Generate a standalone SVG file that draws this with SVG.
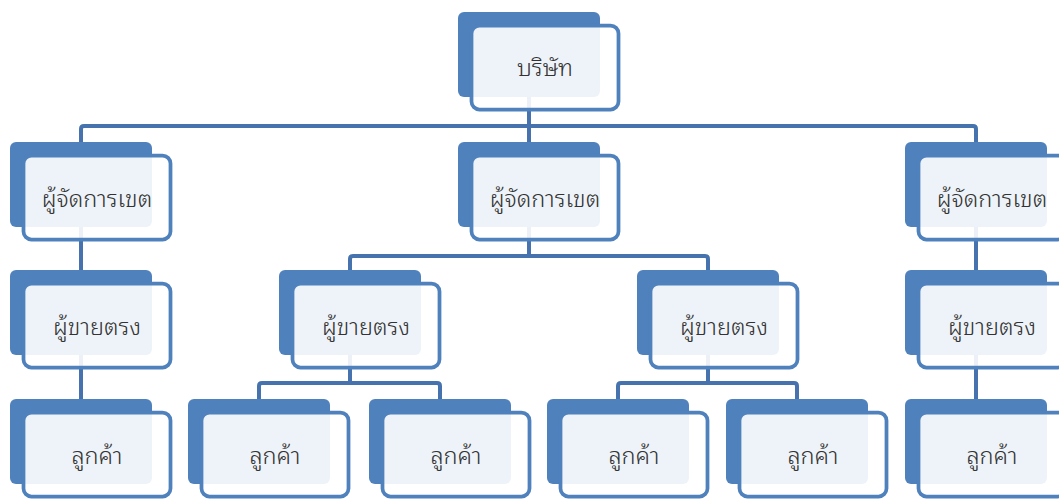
<svg xmlns="http://www.w3.org/2000/svg" width="1059" height="500" viewBox="0 0 1059 500">
  <style>
    .back { fill: #4F81BD; }
    .front { fill: #FFFFFF; fill-opacity: 0.9; stroke: #4F81BD; stroke-width: 3.75; }
    .label { font-family: "Noto Sans Thai Looped", "Loma", "Garuda", "Tahoma", "Noto Sans Thai", "Noto Sans", sans-serif; font-size: 23.5px; font-weight: 300; fill: #333333; text-anchor: middle; dominant-baseline: central; }
    .conn { fill: none; stroke: #4673AE; stroke-width: 4; stroke-linejoin: round; }
  </style>
  <defs>
    <!-- one org-chart box: dark back card, translucent framed front card -->
    <g id="card">
      <rect class="back" x="0" y="0" width="142" height="85" rx="6"/>
      <rect class="front" x="13.5" y="13.5" width="147" height="84" rx="8"/>
    </g>
  </defs>

  <!-- connectors, drawn beneath the boxes -->
  <g id="connectors">
    <path class="conn" d="M529 97 V126"/>
    <path class="conn" d="M81 142 V129 Q81 126 84 126 H973 Q976 126 976 129 V142"/>
    <path class="conn" d="M529 126 V142"/>
    <path class="conn" d="M81 227 V270"/>
    <path class="conn" d="M976 227 V270"/>
    <path class="conn" d="M529 227 V256"/>
    <path class="conn" d="M350 270 V259 Q350 256 353 256 H705 Q708 256 708 259 V270"/>
    <path class="conn" d="M81 355 V399"/>
    <path class="conn" d="M976 355 V399"/>
    <path class="conn" d="M350 355 V383"/>
    <path class="conn" d="M259 399 V386 Q259 383 262 383 H437 Q440 383 440 386 V399"/>
    <path class="conn" d="M708 355 V383"/>
    <path class="conn" d="M618 399 V386 Q618 383 621 383 H794 Q797 383 797 386 V399"/>
  </g>

  <!-- level 0 -->
  <g id="company"><use href="#card" x="458" y="12"/><text class="label" x="545" y="65">บริษัท</text></g>

  <!-- level 1 -->
  <g id="zone-left"><use href="#card" x="10" y="142"/><text class="label" x="97" y="196">ผู้จัดการเขต</text></g>
  <g id="zone-mid"><use href="#card" x="458" y="142"/><text class="label" x="545" y="196">ผู้จัดการเขต</text></g>
  <g id="zone-right"><use href="#card" x="905" y="142"/><text class="label" x="992" y="196">ผู้จัดการเขต</text></g>

  <!-- level 2 -->
  <g id="sales-1"><use href="#card" x="10" y="270"/><text class="label" x="97" y="324">ผู้ขายตรง</text></g>
  <g id="sales-2"><use href="#card" x="279" y="270"/><text class="label" x="366" y="324">ผู้ขายตรง</text></g>
  <g id="sales-3"><use href="#card" x="637" y="270"/><text class="label" x="724" y="324">ผู้ขายตรง</text></g>
  <g id="sales-4"><use href="#card" x="905" y="270"/><text class="label" x="992" y="324">ผู้ขายตรง</text></g>

  <!-- level 3 -->
  <g id="customer-1"><use href="#card" x="10" y="399"/><text class="label" x="97" y="453">ลูกค้า</text></g>
  <g id="customer-2"><use href="#card" x="188" y="399"/><text class="label" x="275" y="453">ลูกค้า</text></g>
  <g id="customer-3"><use href="#card" x="369" y="399"/><text class="label" x="456" y="453">ลูกค้า</text></g>
  <g id="customer-4"><use href="#card" x="547" y="399"/><text class="label" x="634" y="453">ลูกค้า</text></g>
  <g id="customer-5"><use href="#card" x="726" y="399"/><text class="label" x="813" y="453">ลูกค้า</text></g>
  <g id="customer-6"><use href="#card" x="905" y="399"/><text class="label" x="992" y="453">ลูกค้า</text></g>
</svg>
